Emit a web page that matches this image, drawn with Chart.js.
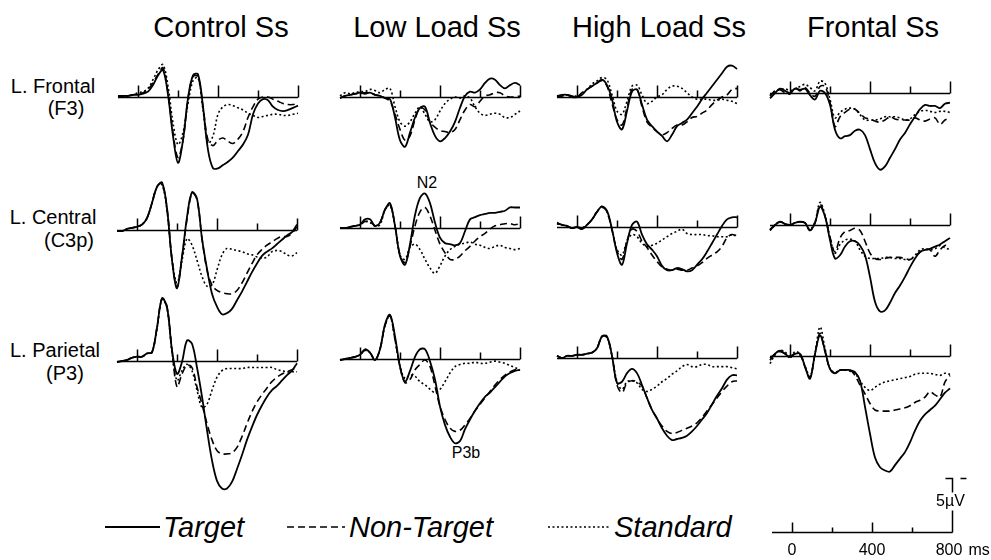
<!DOCTYPE html>
<html>
<head>
<meta charset="utf-8">
<title>ERP waveforms</title>
<script src="https://cdn.jsdelivr.net/npm/chart.js@4.4.1/dist/chart.umd.min.js"></script>
<style>
  html, body { margin: 0; padding: 0; background: #fff; }
  body {
    width: 991px; height: 560px; position: relative; overflow: hidden;
    font-family: "Liberation Sans", Arial, Helvetica, sans-serif; color: #000;
  }
  .title { position: absolute; font-size: 29px; transform: translate(-50%, -50%); white-space: nowrap; }
  .row-label { position: absolute; font-size: 20px; line-height: 20px; transform: translate(-50%, -50%); white-space: nowrap; }
  .peak-label { position: absolute; font-size: 16px; line-height: 16px; transform: translate(-50%, -50%); }
  .legend-text { position: absolute; font-size: 29px; font-style: italic; line-height: 29px; transform: translateY(-50%); white-space: nowrap; }
  canvas, svg { position: absolute; }
</style>
</head>
<body>
<script>
// ---- data (µV, negative plotted up) ----
const times = [-100, -75, -50, -25, 0, 25, 50, 75, 100, 125, 150, 175, 200, 225, 250, 275, 300, 325, 350,
  375, 400, 425, 450, 475, 500, 525, 550, 575, 600, 625, 650, 675, 700, 725, 750, 775, 800];
const tickTimes = [0, 200, 400, 600, 800];
const calibrationLabels = ['0', '400', '800'];
const columnTitles = ['Control Ss', 'Low Load Ss', 'High Load Ss', 'Frontal Ss'];
const rowLabels = [['L. Frontal', '(F3)'], ['L. Central', '(C3p)'], ['L. Parietal', '(P3)']];
const seriesNames = ['Target', 'Non-Target', 'Standard'];

// Control Ss
const controlF3Target = [-0.1, -0.1, -0.1, -0.2, -0.2, -0.3, -0.5, -1.1, -2.0, -2.5, -0.2, 3.6, 6.1, 4.0, 0.1, -2.0, -2.1, 0.9, 4.9, 6.6, 6.6, 6.3, 6.0, 5.6, 5.0, 4.4, 3.5, 1.6, 0.6, 0.2, 0.3, 0.9, 1.2, 1.3, 1.2, 1.0, 0.8];
const controlF3NonTarget = [-0.1, 0, -0.1, -0.2, -0.3, -0.4, -0.7, -1.3, -2.1, -2.7, -0.4, 3.3, 5.6, 4.0, 0.2, -1.9, -1.9, 0.9, 4.0, 4.5, 4.0, 3.8, 4.1, 4.3, 3.9, 3.2, 1.9, 0.9, 0.2, 0, 0, 0.2, 0.4, 0.6, 0.7, 0.7, 0.6];
const controlF3Standard = [0, 0, -0.1, -0.2, -0.4, -0.5, -0.8, -1.6, -2.5, -3.0, -1.0, 2.4, 4.4, 3.3, 0.6, -1.5, -1.8, 1.2, 4.3, 3.6, 1.6, 0.9, 0.7, 0.8, 1.0, 1.2, 1.5, 1.7, 1.9, 1.8, 1.7, 1.6, 1.6, 1.7, 1.7, 1.6, 1.5];
const controlC3pTarget = [0.1, 0.1, -0.1, -0.2, -0.3, -0.5, -1.1, -2.5, -4.0, -4.4, -2.0, 2.8, 5.4, 2.5, -1.2, -3.5, -2.9, 0.8, 3.6, 5.9, 7.1, 7.8, 7.7, 7.3, 6.5, 5.7, 4.8, 3.9, 3.1, 2.4, 2.0, 1.7, 1.3, 0.9, 0.5, 0.2, -0.5];
const controlC3pNonTarget = [0.1, 0.1, -0.1, -0.2, -0.3, -0.5, -1.1, -2.5, -4.0, -4.3, -2.0, 2.7, 5.3, 2.5, -1.0, -3.4, -2.8, 0.8, 3.7, 5.1, 5.6, 5.8, 5.9, 5.9, 5.6, 4.9, 4.0, 3.1, 2.3, 1.8, 1.4, 1.1, 0.8, 0.6, 0.6, 0.3, -0.3];
const controlC3pStandard = [0.1, 0.1, -0.1, -0.2, -0.3, -0.5, -1.1, -2.5, -4.0, -4.2, -1.8, 2.7, 4.9, 2.8, 0.8, 1.4, 2.8, 4.3, 5.2, 5.1, 3.7, 2.3, 1.7, 1.8, 1.9, 2.0, 2.2, 2.3, 2.5, 2.6, 2.5, 2.0, 1.9, 2.0, 2.3, 2.4, 2.1];
const controlP3Target = [0.1, 0, -0.1, -0.3, -0.4, -0.4, -0.7, -0.8, -3.1, -5.8, -5.0, -1.0, 1.2, 0.1, -1.9, -1.6, 0.6, 3.3, 6.4, 9.2, 11.1, 11.8, 11.8, 11.2, 10.0, 8.7, 7.3, 6.1, 5.0, 4.1, 3.3, 2.7, 2.3, 1.8, 1.3, 0.9, 0.2];
const controlP3NonTarget = [0.1, 0, -0.1, -0.3, -0.4, -0.4, -0.7, -0.8, -3.1, -5.8, -5.0, -1.0, 2.4, 1.2, 0.4, 0.6, 2.4, 4.0, 5.8, 7.3, 8.3, 8.6, 8.6, 8.5, 8.0, 7.0, 5.8, 4.7, 3.8, 3.1, 2.5, 1.9, 1.5, 1.2, 1.0, 0.8, 0.6];
const controlP3Standard = [0.1, 0, -0.1, -0.3, -0.4, -0.4, -0.7, -0.8, -3.0, -5.7, -4.9, -0.8, 1.8, 0.9, 0.3, 0.9, 2.7, 4.3, 4.0, 2.7, 1.5, 0.9, 0.7, 0.7, 0.7, 0.7, 0.6, 0.6, 0.6, 0.6, 0.6, 0.6, 0.8, 0.9, 1.0, 1.0, 1.0];

// Low Load Ss
const lowF3Target = [0.1, -0.1, -0.2, -0.3, -0.4, -0.3, -0.4, -0.2, -0.1, 0.1, 0.2, 1.9, 4.0, 4.6, 3.3, 1.9, 1.0, 0.9, 2.4, 3.6, 4.1, 3.8, 3.2, 2.3, 1.0, -0.1, -0.5, -0.4, -0.7, -1.3, -1.7, -1.6, -1.1, -0.8, -1.1, -1.3, -1.1];
const lowF3NonTarget = [0.1, -0.1, -0.2, -0.3, -0.3, -0.4, -0.4, -0.2, -0.1, 0.1, 0.4, 1.6, 3.0, 4.0, 3.6, 2.1, 1.0, 1.2, 2.3, 2.8, 3.1, 3.2, 3.3, 3.0, 2.1, 1.2, 0.7, 0.9, 0.4, -0.1, -0.2, -0.4, -0.4, -0.1, 0, 0, -0.1];
const lowF3Standard = [-0.1, -0.4, -0.3, -0.4, -0.5, -0.5, -0.7, -0.6, -0.4, -0.7, -0.8, 0.9, 2.3, 2.7, 2.3, 1.5, 0.9, 1.6, 2.3, 2.1, 1.3, 0.6, 0.2, 0, 0.1, -0.1, 0.1, 0.9, 1.5, 1.7, 1.6, 1.5, 1.6, 1.9, 1.9, 1.6, 1.3];
const lowC3pTarget = [0, 0, -0.1, -0.2, -0.3, -0.8, -0.8, -0.2, -0.5, -1.7, -2.3, -0.2, 2.6, 3.4, 1.5, -1.2, -2.8, -3.2, -2.3, -0.5, 0.9, 1.4, 1.5, 1.6, 1.4, 0.3, -0.8, -1.0, -1.2, -1.3, -1.4, -1.4, -1.5, -1.6, -1.9, -1.9, -1.9];
const lowC3pNonTarget = [0, 0, -0.1, -0.2, -0.3, -0.6, -0.6, -0.2, -0.5, -1.7, -2.2, -0.2, 2.5, 3.2, 1.7, -0.2, -1.5, -1.9, -1.1, 0.2, 1.5, 2.3, 2.9, 2.9, 2.6, 2.1, 1.7, 1.2, 0.8, 0.5, 0.1, -0.2, -0.3, -0.4, -0.4, -0.3, -0.4];
const lowC3pStandard = [0, 0, -0.1, -0.2, -0.3, -0.6, -0.5, -0.2, -0.3, -1.7, -2.1, -0.2, 2.5, 2.9, 1.8, 1.5, 2.0, 2.9, 3.7, 4.2, 3.5, 2.6, 2.0, 1.7, 1.5, 1.4, 1.3, 1.5, 1.6, 1.8, 1.9, 1.7, 1.6, 1.8, 1.9, 2.0, 1.9];
const lowP3Target = [0.1, 0, -0.1, -0.2, -0.4, -0.9, -0.6, 0.1, -0.9, -3.2, -4.1, -2.1, 0.7, 2.1, 1.1, -0.2, -0.9, -0.9, 0.2, 1.9, 4.4, 6.1, 7.2, 7.8, 7.6, 6.5, 5.6, 4.8, 4.1, 3.5, 3.1, 2.6, 2.1, 1.6, 1.3, 1.1, 1.0];
const lowP3NonTarget = [0.1, 0, -0.1, -0.2, -0.4, -0.8, -0.6, 0.1, -0.9, -3.1, -4.0, -1.8, 0.7, 2.2, 1.9, 1.0, 0.5, 0.1, 0.7, 2.5, 4.4, 5.6, 6.4, 6.7, 6.6, 6.1, 5.5, 4.8, 4.2, 3.6, 3.0, 2.4, 1.9, 1.5, 1.2, 1.0, 1.0];
const lowP3Standard = [0.1, 0, -0.1, -0.2, -0.4, -0.8, -0.6, 0.1, -0.9, -3.1, -4.0, -1.8, 0.7, 1.8, 1.5, 1.6, 2.1, 2.4, 2.8, 3.1, 2.8, 2.1, 1.3, 0.7, 0.5, 0.4, 0.4, 0.3, 0.4, 0.4, 0.3, 0.2, 0.3, 0.4, 0.6, 0.8, 1.0];

// High Load Ss
const highF3Target = [-0.1, -0.2, -0.2, 0, 0, -0.2, -0.7, -1.0, -1.3, -1.6, -1.1, 0.2, 2.3, 3.0, 1.3, -0.5, -0.7, 0.7, 2.1, 2.7, 3.2, 3.6, 4.1, 3.5, 2.7, 2.4, 2.1, 1.5, 0.9, 0.2, -0.4, -1.0, -1.6, -2.2, -2.8, -2.9, -2.6];
const highF3NonTarget = [0, -0.1, -0.2, -0.1, 0, -0.4, -0.7, -1.0, -1.3, -1.5, -1.0, 0.6, 2.1, 2.6, 1.0, -0.7, -0.7, 0.9, 2.3, 2.8, 3.2, 3.5, 3.3, 2.9, 2.6, 2.6, 2.3, 1.9, 1.8, 1.5, 1.2, 0.7, 0.3, 0, -0.2, -0.7, -0.8];
const highF3Standard = [0, -0.1, -0.2, -0.1, -0.1, -0.3, -0.7, -1.2, -1.5, -1.8, -1.6, -0.2, 1.3, 1.6, 0.4, -1.0, -1.1, -0.2, 0.6, 0.4, 0, -0.2, -0.7, -1.0, -1.0, -0.8, -0.4, 0, 0.2, 0.2, 0.2, 0.3, 0.3, 0.2, 0.3, 0.4, 0.6];
const highC3pTarget = [-0.4, -0.2, -0.1, 0.1, 0, 0.2, -0.2, -0.7, -1.4, -1.9, -1.5, 0.2, 2.4, 3.5, 1.5, -0.2, -0.5, 0.7, 1.6, 2.1, 2.7, 3.6, 4.0, 4.0, 3.8, 3.9, 4.1, 4.0, 3.5, 3.0, 2.3, 1.5, 0.7, -0.1, -0.7, -0.9, -0.9];
const highC3pNonTarget = [-0.3, -0.2, -0.1, 0.1, 0, 0.1, -0.2, -0.7, -1.4, -1.8, -1.4, 0.3, 2.2, 3.0, 1.3, 0.2, 0.4, 1.3, 1.9, 2.6, 3.2, 3.7, 3.9, 4.0, 3.9, 4.0, 4.0, 3.8, 3.6, 3.3, 2.9, 2.6, 2.3, 1.8, 1.0, 0.7, 0.9];
const highC3pStandard = [-0.3, -0.2, -0.1, 0.1, 0, 0.1, -0.2, -0.7, -1.4, -1.9, -1.4, 0.3, 2.1, 2.6, 1.3, 0.7, 0.9, 1.5, 1.8, 1.7, 1.5, 1.2, 0.9, 0.6, 0.4, 0.2, 0.6, 0.7, 0.7, 0.7, 0.8, 0.8, 0.9, 0.9, 0.9, 0.7, 0.8];
const highP3Target = [-0.2, 0, -0.2, -0.2, -0.3, -0.3, -0.4, -0.5, -0.9, -2.0, -2.0, -0.2, 2.3, 2.2, 1.4, 1.0, 1.4, 2.5, 3.7, 4.8, 5.6, 6.5, 7.2, 7.6, 7.5, 7.4, 7.2, 6.8, 6.3, 5.7, 5.1, 4.3, 3.5, 2.8, 2.0, 1.6, 1.6];
const highP3NonTarget = [-0.2, 0, -0.2, -0.2, -0.3, -0.3, -0.4, -0.5, -0.9, -2.0, -1.9, -0.2, 2.5, 3.2, 2.3, 2.1, 2.2, 2.6, 3.7, 4.8, 5.6, 6.3, 6.8, 7.0, 6.9, 6.7, 6.5, 6.3, 6.0, 5.5, 4.9, 4.3, 3.7, 3.1, 2.6, 2.2, 2.1];
const highP3Standard = [-0.2, 0, -0.2, -0.2, -0.3, -0.3, -0.4, -0.5, -0.9, -2.0, -1.9, -0.2, 2.2, 2.9, 2.2, 2.1, 2.3, 2.9, 3.1, 2.9, 2.6, 2.2, 1.9, 1.5, 1.2, 0.8, 0.6, 0.8, 0.8, 0.6, 0.6, 0.8, 0.8, 0.8, 0.8, 0.9, 1.0];

// Frontal Ss
const frontalF3Target = [0.5, 0, -0.4, -0.2, 0, -0.4, -0.3, -0.4, 0.2, 0.6, -0.2, 0, 1.1, 3.4, 4.2, 4.0, 3.9, 3.5, 3.4, 3.9, 5.2, 6.5, 7.1, 6.8, 6.0, 5.2, 4.3, 3.7, 2.9, 2.2, 1.5, 1.1, 1.2, 1.2, 1.4, 1.0, 0.9];
const frontalF3NonTarget = [0.3, -0.2, -0.3, 0, 0.1, -0.5, -0.2, -0.5, 0, 0.3, -0.6, -0.6, 0.9, 3.1, 2.2, 1.8, 1.5, 1.5, 1.9, 2.3, 2.4, 2.6, 2.7, 2.5, 2.2, 2.4, 2.5, 2.5, 2.5, 2.3, 2.5, 2.6, 2.4, 2.3, 2.9, 2.5, 2.3];
const frontalF3Standard = [0.2, -0.2, -0.3, -0.4, -0.2, -0.4, -0.6, -0.8, -0.5, -0.2, -1.1, -0.9, 0.6, 2.3, 1.8, 1.5, 1.4, 1.5, 2.0, 2.5, 2.5, 2.5, 2.4, 2.2, 2.2, 2.2, 2.3, 2.5, 2.4, 2.0, 1.7, 1.6, 1.7, 1.8, 1.7, 1.7, 1.8];
const frontalC3pTarget = [0.5, 0, -0.3, -0.1, 0, -0.2, -0.3, -0.2, 0.5, -0.2, -1.7, -0.8, 1.4, 3.1, 2.8, 2.0, 1.5, 1.5, 1.9, 2.8, 4.8, 7.1, 8.0, 7.9, 7.2, 6.3, 5.6, 4.8, 3.9, 3.1, 2.5, 2.3, 2.2, 2.0, 1.8, 1.5, 1.2];
const frontalC3pNonTarget = [0.4, 0, -0.3, -0.1, 0, -0.2, -0.3, -0.2, 0.5, -0.2, -1.9, -0.8, 1.1, 2.5, 1.2, 0.6, 0.5, 0.3, 0.5, 1.5, 2.6, 3.1, 3.2, 3.1, 3.0, 3.0, 3.0, 3.1, 3.2, 2.9, 2.5, 2.3, 2.3, 2.9, 2.3, 1.9, 2.0];
const frontalC3pStandard = [0.5, 0, -0.3, -0.1, 0, -0.2, -0.3, -0.2, 0.4, -0.3, -2.1, -0.9, 1.2, 2.6, 1.8, 1.4, 1.3, 1.5, 2.3, 2.9, 3.1, 3.1, 3.1, 3.0, 3.0, 3.1, 3.1, 3.2, 3.2, 2.8, 2.3, 2.2, 2.3, 2.2, 1.9, 2.1, 2.3];
const frontalP3Target = [0.4, -0.2, -0.5, -0.2, 0.1, -0.2, -0.2, 1.0, 2.1, -0.2, -1.9, -0.5, 1.2, 1.6, 1.3, 1.3, 1.3, 1.5, 2.3, 4.7, 7.2, 9.4, 10.3, 10.6, 10.7, 10.1, 9.5, 8.9, 8.0, 6.9, 6.0, 5.4, 5.0, 4.6, 4.0, 3.4, 3.0];
const frontalP3NonTarget = [0.2, -0.2, -0.4, -0.2, 0, -0.2, -0.1, 1.0, 2.0, -0.2, -2.1, -0.4, 1.2, 1.6, 1.3, 1.3, 1.3, 1.8, 2.7, 3.5, 4.4, 5.0, 5.1, 5.1, 5.1, 5.0, 4.9, 4.8, 4.6, 4.3, 4.1, 3.8, 3.3, 3.6, 3.8, 2.4, 1.8];
const frontalP3Standard = [0.7, -0.1, -0.5, -0.4, 0.2, -0.4, -0.2, 0.9, 1.9, -0.2, -2.7, -0.7, 1.2, 1.5, 1.3, 1.3, 1.4, 1.6, 2.3, 2.9, 3.2, 2.9, 2.6, 2.4, 2.3, 2.2, 2.1, 2.0, 1.9, 1.7, 1.6, 1.6, 1.6, 1.7, 1.8, 1.6, 1.7];

// ---- layout ----
const PX_PER_UV = 10.8;       // 5 µV bar is ~54 px tall
const AXIS_WIDTH = 180;       // -100..800 ms
const PAD = 4;
const ABOVE = 80;             // px of canvas above the zero line
const BELOW = 140;            // px of canvas below the zero line

// [axis start x, zero line y] for each panel, row by row
const panels = [
  { x: 118, y: 97,  series: [controlF3Target, controlF3NonTarget, controlF3Standard] },
  { x: 340, y: 97,  series: [lowF3Target, lowF3NonTarget, lowF3Standard] },
  { x: 557, y: 97,  series: [highF3Target, highF3NonTarget, highF3Standard] },
  { x: 770, y: 93,  series: [frontalF3Target, frontalF3NonTarget, frontalF3Standard] },
  { x: 117, y: 230, series: [controlC3pTarget, controlC3pNonTarget, controlC3pStandard] },
  { x: 340, y: 228, series: [lowC3pTarget, lowC3pNonTarget, lowC3pStandard] },
  { x: 557, y: 227, series: [highC3pTarget, highC3pNonTarget, highC3pStandard] },
  { x: 770, y: 225, series: [frontalC3pTarget, frontalC3pNonTarget, frontalC3pStandard] },
  { x: 117, y: 361, series: [controlP3Target, controlP3NonTarget, controlP3Standard] },
  { x: 340, y: 359, series: [lowP3Target, lowP3NonTarget, lowP3Standard] },
  { x: 557, y: 358, series: [highP3Target, highP3NonTarget, highP3Standard] },
  { x: 770, y: 356, series: [frontalP3Target, frontalP3NonTarget, frontalP3Standard] }
];

const lineStyles = [
  { borderWidth: 1.8, borderDash: [] },
  { borderWidth: 1.6, borderDash: [7, 4] },
  { borderWidth: 1.6, borderDash: [2, 2.5] }
];

const FONT = '"Liberation Sans", Arial, Helvetica, sans-serif';
Chart.defaults.font.family = FONT;

// zero line with upward ticks every 200 ms
const erpAxis = {
  id: 'erpAxis',
  beforeDatasetsDraw(chart) {
    const { ctx, scales: { x, y } } = chart;
    const y0 = Math.round(y.getPixelForValue(0)) + 0.5;
    ctx.save();
    ctx.strokeStyle = '#000';
    ctx.lineWidth = 1.5;
    ctx.beginPath();
    ctx.moveTo(x.getPixelForValue(-100), y0);
    ctx.lineTo(x.getPixelForValue(800), y0);
    tickTimes.forEach(t => {
      const px = Math.round(x.getPixelForValue(t)) + 0.5;
      const len = t % 400 === 0 ? 12 : 7;
      ctx.moveTo(px, y0);
      ctx.lineTo(px, y0 - len);
    });
    ctx.stroke();
    ctx.restore();
  }
};

function addCanvas(left, top, width, height) {
  const canvas = document.createElement('canvas');
  canvas.width = width;
  canvas.height = height;
  canvas.style.left = left + 'px';
  canvas.style.top = top + 'px';
  document.body.appendChild(canvas);
  return canvas;
}

function makePanel(panel) {
  const canvas = addCanvas(panel.x - PAD, panel.y - ABOVE, AXIS_WIDTH + 2 * PAD, ABOVE + BELOW);
  new Chart(canvas, {
    type: 'line',
    data: {
      datasets: panel.series.map((values, i) => ({
        label: seriesNames[i],
        data: times.map((t, k) => ({ x: t, y: values[k] })),
        borderColor: '#000',
        borderWidth: lineStyles[i].borderWidth,
        borderDash: lineStyles[i].borderDash,
        pointRadius: 0,
        tension: 0.35,
        fill: false,
        clip: false
      }))
    },
    options: {
      responsive: false,
      animation: false,
      events: [],
      layout: { padding: { left: PAD, right: PAD, top: 0, bottom: 0 } },
      plugins: { legend: { display: false }, tooltip: { enabled: false } },
      scales: {
        x: { type: 'linear', min: -100, max: 800, display: false },
        y: { min: -ABOVE / PX_PER_UV, max: BELOW / PX_PER_UV, reverse: true, display: false }
      }
    },
    plugins: [erpAxis]
  });
}

// time axis and 5 µV bar under the Frontal column
function makeCalibration() {
  const left = 760, right = 991, zeroY = 532, above = 70, below = 28;
  const canvas = addCanvas(left, zeroY - above, right - left, above + below);
  const calibrationAxis = {
    id: 'calibrationAxis',
    afterDraw(chart) {
      const { ctx, scales: { x, y } } = chart;
      const y0 = Math.round(y.getPixelForValue(0)) + 0.5;
      const barX = Math.round(x.getPixelForValue(800)) + 0.5;
      const barTop = Math.round(y.getPixelForValue(-5)) + 0.5;
      ctx.save();
      ctx.strokeStyle = '#000';
      ctx.fillStyle = '#000';
      ctx.lineWidth = 1.5;
      ctx.beginPath();
      ctx.moveTo(x.getPixelForValue(-100), y0);
      ctx.lineTo(barX, y0);
      tickTimes.forEach(t => {
        const px = Math.round(x.getPixelForValue(t)) + 0.5;
        const len = t % 400 === 0 ? 10 : 5;
        ctx.moveTo(px, y0);
        ctx.lineTo(px, y0 - len);
      });
      // scale bar
      ctx.moveTo(barX - 7, barTop);
      ctx.lineTo(barX, barTop);
      ctx.lineTo(barX, y0);
      // polarity mark
      ctx.moveTo(barX + 8, barTop);
      ctx.lineTo(barX + 14, barTop);
      ctx.stroke();

      ctx.font = '16px ' + FONT;
      ctx.textAlign = 'center';
      ctx.textBaseline = 'middle';
      const labelY = (barTop + y0) / 2 - 4;
      const w = ctx.measureText('5\u00b5V').width;
      ctx.fillStyle = '#fff';
      ctx.fillRect(barX - 2 - w / 2, labelY - 9, w + 2, 18);
      ctx.fillStyle = '#000';
      ctx.fillText('5\u00b5V', barX - 2, labelY);

      ctx.textBaseline = 'top';
      calibrationLabels.forEach(label => {
        const t = Number(label);
        ctx.fillText(label, x.getPixelForValue(t) - (t === 800 ? 3 : 0), y0 + 10);
      });
      ctx.textAlign = 'left';
      ctx.fillText('ms', barX + 16, y0 + 10);
      ctx.restore();
    }
  };
  new Chart(canvas, {
    type: 'line',
    data: { datasets: [] },
    options: {
      responsive: false,
      animation: false,
      events: [],
      layout: { padding: { left: 12, right: right - 952, top: 0, bottom: 0 } },
      plugins: { legend: { display: false }, tooltip: { enabled: false } },
      scales: {
        x: { type: 'linear', min: -100, max: 800, display: false },
        y: { min: -above / PX_PER_UV, max: below / PX_PER_UV, reverse: true, display: false }
      }
    },
    plugins: [calibrationAxis]
  });
}

function addText(cls, text, x, y) {
  const el = document.createElement('div');
  el.className = cls;
  el.textContent = text;
  el.style.left = x + 'px';
  el.style.top = y + 'px';
  document.body.appendChild(el);
}

// titles and labels
const titleX = [221, 437, 659, 873];
columnTitles.forEach((t, i) => addText('title', t, titleX[i], 27));
const rowLabelY = [[86, 108], [217, 240], [350, 373]];
const rowLabelX = [[53, 66], [53, 69], [55, 65]];
rowLabels.forEach((lines, r) => {
  lines.forEach((line, k) => addText('row-label', line, rowLabelX[r][k], rowLabelY[r][k]));
});
addText('peak-label', 'N2', 427, 183);
addText('peak-label', 'P3b', 466, 453);

panels.forEach(makePanel);
makeCalibration();

// legend
const legendItems = [
  { x1: 105, x2: 160, textX: 163 },
  { x1: 287, x2: 345, textX: 349 },
  { x1: 548, x2: 610, textX: 614 }
];
const legendY = 527;
const svgNS = 'http://www.w3.org/2000/svg';
const svg = document.createElementNS(svgNS, 'svg');
svg.setAttribute('width', 991);
svg.setAttribute('height', 20);
svg.style.left = '0px';
svg.style.top = (legendY - 10) + 'px';
legendItems.forEach((item, i) => {
  const line = document.createElementNS(svgNS, 'line');
  line.setAttribute('x1', item.x1);
  line.setAttribute('x2', item.x2);
  line.setAttribute('y1', 10);
  line.setAttribute('y2', 10);
  line.setAttribute('stroke', '#000');
  line.setAttribute('stroke-width', lineStyles[i].borderWidth);
  if (lineStyles[i].borderDash.length) line.setAttribute('stroke-dasharray', lineStyles[i].borderDash.join(' '));
  svg.appendChild(line);
  const label = document.createElement('div');
  label.className = 'legend-text';
  label.textContent = seriesNames[i];
  label.style.left = item.textX + 'px';
  label.style.top = legendY + 'px';
  document.body.appendChild(label);
});
document.body.appendChild(svg);
</script>
</body>
</html>
